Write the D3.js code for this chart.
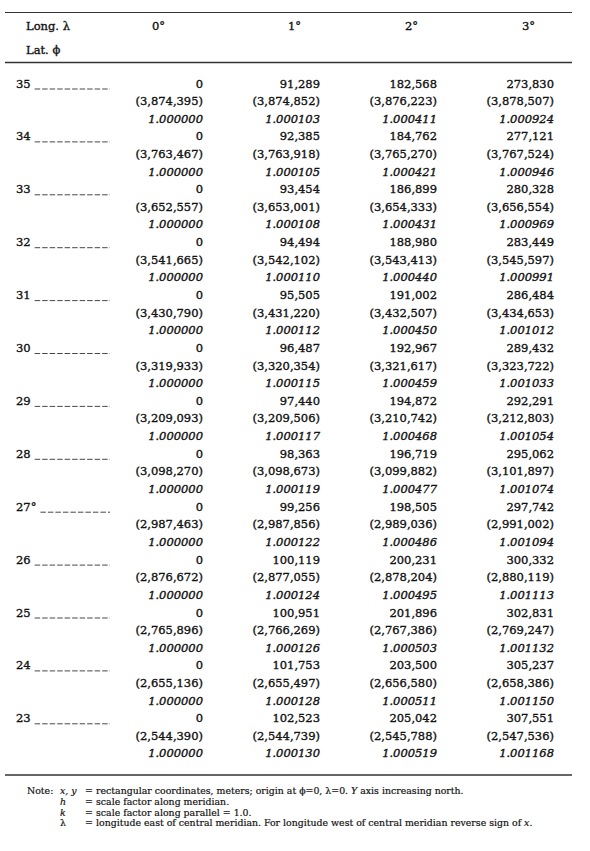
<html>
<script src='https://d3js.org/d3.v7.min.js'></script>
<style>
  body { margin: 0; background: white; }
  text { font-family: 'DejaVu Serif', serif; fill: #111; stroke: #111; stroke-width: 0.35px; }
  .num { font-size: 11.5px; }
  .h { font-style: italic; }
  .note { font-size: 9.4px; stroke-width: 0.2px; }
</style>
<body onload='init()'>
<svg width=590 height=851>
</svg>
<script>
// Table contents
const longitudes = ["0°", "1°", "2°", "3°"]
const latitudes = ["35", "34", "33", "32", "31", "30", "29", "28", "27°", "26", "25", "24", "23"]

// x (meters) per latitude row, one value per longitude
const xValues = [
    [0, 91289, 182568, 273830],
    [0, 92385, 184762, 277121],
    [0, 93454, 186899, 280328],
    [0, 94494, 188980, 283449],
    [0, 95505, 191002, 286484],
    [0, 96487, 192967, 289432],
    [0, 97440, 194872, 292291],
    [0, 98363, 196719, 295062],
    [0, 99256, 198505, 297742],
    [0, 100119, 200231, 300332],
    [0, 100951, 201896, 302831],
    [0, 101753, 203500, 305237],
    [0, 102523, 205042, 307551]
]

// y (meters), shown in parentheses
const yValues = [
    [3874395, 3874852, 3876223, 3878507],
    [3763467, 3763918, 3765270, 3767524],
    [3652557, 3653001, 3654333, 3656554],
    [3541665, 3542102, 3543413, 3545597],
    [3430790, 3431220, 3432507, 3434653],
    [3319933, 3320354, 3321617, 3323722],
    [3209093, 3209506, 3210742, 3212803],
    [3098270, 3098673, 3099882, 3101897],
    [2987463, 2987856, 2989036, 2991002],
    [2876672, 2877055, 2878204, 2880119],
    [2765896, 2766269, 2767386, 2769247],
    [2655136, 2655497, 2656580, 2658386],
    [2544390, 2544739, 2545788, 2547536]
]

// h, scale factor along meridian (italic)
const hValues = [
    [1.000000, 1.000103, 1.000411, 1.000924],
    [1.000000, 1.000105, 1.000421, 1.000946],
    [1.000000, 1.000108, 1.000431, 1.000969],
    [1.000000, 1.000110, 1.000440, 1.000991],
    [1.000000, 1.000112, 1.000450, 1.001012],
    [1.000000, 1.000115, 1.000459, 1.001033],
    [1.000000, 1.000117, 1.000468, 1.001054],
    [1.000000, 1.000119, 1.000477, 1.001074],
    [1.000000, 1.000122, 1.000486, 1.001094],
    [1.000000, 1.000124, 1.000495, 1.001113],
    [1.000000, 1.000126, 1.000503, 1.001132],
    [1.000000, 1.000128, 1.000511, 1.001150],
    [1.000000, 1.000130, 1.000519, 1.001168]
]

function init() {
    const svg = d3.select("svg")
    const lineGap = 17.6

    // Scales: column right edges and row baselines
    var xScale = d3.scalePoint().domain(longitudes).range([203, 554])
    var yScale = d3.scalePoint().domain(latitudes).range([87.5, 722.3])

    const fmt = d3.format(",")
    const fmtH = d3.format(".6f")

    // Rules
    const rules = [12.5, 62.5, 775]
    svg.selectAll("line.rule")
    .data(rules)
    .enter()
    .append("line")
    .attr("x1", 5).attr("x2", 572)
    .attr("y1", d => d).attr("y2", d => d)
    .attr("stroke", "#333")
    .attr("stroke-width", (d, i) => i == 0 ? 1.1 : 1.5)

    // Column heads
    svg.append("text").attr("class", "num").attr("x", 26).attr("y", 29.5).text("Long. λ")
    svg.append("text").attr("class", "num").attr("x", 26).attr("y", 54).text("Lat. ϕ")
    svg.selectAll("text.head")
    .data(longitudes)
    .enter()
    .append("text")
    .attr("class", "num head")
    .attr("x", (d, i) => xScale(d) - (i == 0 ? 51 : 32))
    .attr("y", 29.5)
    .text(d => d)

    // Latitude stubs with leaders
    const stub = svg.selectAll("g.stub")
    .data(latitudes)
    .enter()
    .append("g")
    .attr("transform", d => `translate(0,${yScale(d)})`)
    stub.append("text").attr("class", "num").attr("x", 16).attr("y", 0).text(d => d)
    stub.each(function(d) {
        const t = d3.select(this).select("text").node()
        const end = 16 + t.getComputedTextLength()
        d3.select(this).append("line")
        .attr("x1", end + 4).attr("x2", 110)
        .attr("y1", 1.5).attr("y2", 1.5)
        .attr("stroke", "#333").attr("stroke-width", 0.9)
        .attr("stroke-dasharray", "5.5,2")
    })

    // Cells
    const cells = []
    latitudes.forEach((lat, r) => {
        longitudes.forEach((lon, c) => {
            cells.push({lat, lon, x: xValues[r][c], y: yValues[r][c], h: hValues[r][c]})
        })
    })
    const cell = svg.selectAll("g.cell")
    .data(cells)
    .enter()
    .append("g")
    .attr("transform", d => `translate(${xScale(d.lon)},${yScale(d.lat)})`)
    cell.append("text").attr("class", "num").attr("text-anchor", "end").attr("y", 0)
    .text(d => fmt(d.x))
    cell.append("text").attr("class", "num").attr("text-anchor", "end").attr("y", lineGap)
    .text(d => "(" + fmt(d.y) + ")")
    cell.append("text").attr("class", "num h").attr("text-anchor", "end").attr("y", 2 * lineGap)
    .text(d => fmtH(d.h))

    // Notes
    const notes = [
        {lab: "x, y", parts: [["rectangular coordinates, meters; origin at ϕ=0, λ=0. ", false], ["Y", true], [" axis increasing north.", false]]},
        {lab: "h", parts: [["scale factor along meridian.", false]]},
        {lab: "k", parts: [["scale factor along parallel = 1.0.", false]]},
        {lab: "λ", parts: [["longitude east of central meridian. For longitude west of central meridian reverse sign of ", false], ["x", true], [".", false]]}
    ]
    svg.append("text").attr("class", "note").attr("x", 27).attr("y", 794).text("Note:")
    const note = svg.selectAll("g.note")
    .data(notes)
    .enter()
    .append("g")
    .attr("transform", (d, i) => `translate(0,${794 + i * 10.8})`)
    note.append("text").attr("class", "note").attr("x", 60)
    .style("font-style", d => d.lab == "λ" ? "normal" : "italic")
    .text(d => d.lab)
    note.append("text").attr("class", "note").attr("x", 85).text("=")
    note.append("text").attr("class", "note").attr("x", 96)
    .selectAll("tspan")
    .data(d => d.parts)
    .enter()
    .append("tspan")
    .style("font-style", d => d[1] ? "italic" : "normal")
    .text(d => d[0])
}
</script>
</body>
</html>
